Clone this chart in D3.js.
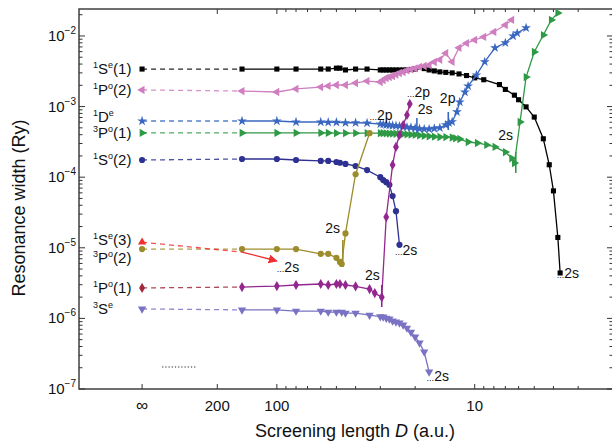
<!DOCTYPE html>
<html>
<head>
<meta charset="utf-8">
<script src="https://cdn.jsdelivr.net/npm/d3@7"></script>
<style>
  body { margin: 0; background: #fff; }
  svg { display: block; }
  text { font-family: "Liberation Sans", Arial, sans-serif; fill: #111; }
</style>
</head>
<body>
<script>
// resonance widths vs screening length
// D = Infinity is the free (unscreened) point drawn at the "∞" tick
const INF_D = 480;

const sE1 = [[Infinity,3.4e-3],[150,3.4e-3],[100,3.4e-3],[80,3.4e-3],[60,3.4e-3],[55,3.4e-3],[50,3.5e-3],[48,3.5e-3],[45,3.3e-3],[40,3.4e-3],[35,3.4e-3],[30,3.3e-3],[29,3.3e-3],[28,3.3e-3],[27,3.3e-3],[26,3.3e-3],[25,3.3e-3],[24,3.3e-3],[23,3.3e-3],[22,3.3e-3],[21,3.35e-3],[20,3.4e-3],[18,3.45e-3],[17,3.3e-3],[16,3.2e-3],[15,3.1e-3],[14,3.05e-3],[13,3.0e-3],[12,2.9e-3],[11,2.75e-3],[10,2.55e-3],[9,2.4e-3],[7.5,2.05e-3],[7,1.75e-3],[6.3,1.45e-3],[6,1.25e-3],[5.5,9.9e-4],[5,7.1e-4],[4.5,3.5e-4],[4.2,1.5e-4],[4,6.4e-5],[3.8,1.4e-5],[3.7,4.4e-6]];
const pO2 = [[Infinity,1.72e-3],[150,1.66e-3],[100,1.61e-3],[80,1.78e-3],[60,1.89e-3],[55,1.96e-3],[50,2.02e-3],[45,2.02e-3],[40,2.16e-3],[35,2.3e-3],[30,2.23e-3],[29,2.38e-3],[28,2.54e-3],[27,2.62e-3],[26,2.71e-3],[25,2.85e-3],[24,2.99e-3],[23,3.09e-3],[22,3.25e-3],[21,3.36e-3],[20,3.47e-3],[19,3.64e-3],[18,3.76e-3],[17,3.88e-3],[16,4.28e-3],[15,4.6e-3],[14,5.7e-3],[13,4.3e-3],[12,6.8e-3],[11,7.9e-3],[10,8.8e-3],[9,9.7e-3],[8,1.14e-2],[7,1.43e-2],[6.5,1.69e-2]];
const dE = [[Infinity,6.25e-4],[150,6.25e-4],[100,6.25e-4],[80,6.05e-4],[60,6.05e-4],[55,6.0e-4],[50,6.0e-4],[45,5.9e-4],[40,5.9e-4],[35,5.85e-4],[30,5.66e-4],[29,5.6e-4],[28,5.5e-4],[27,5.45e-4],[26,5.4e-4],[25,5.35e-4],[24,5.3e-4],[23,5.2e-4],[22,5.13e-4],[21,5.05e-4],[20,4.95e-4],[19,4.85e-4],[18,4.8e-4],[17,4.8e-4],[16,4.9e-4],[15,5.0e-4],[14,5.5e-4],[13.5,5.9e-4],[13,6.1e-4],[12.3,8.4e-4],[11.9,1.16e-3],[11.2,1.6e-3],[10.8,1.95e-3],[9.8,2.8e-3],[8.9,4.3e-3],[7.9,6.8e-3],[7,8e-3],[6.4,1.0e-2],[6.1,1.1e-2],[5.5,1.3e-2]];
const tPO1 = [[Infinity,4.23e-4],[150,4.23e-4],[100,4.23e-4],[80,4.23e-4],[60,4.23e-4],[55,4.23e-4],[50,4.2e-4],[45,4.2e-4],[40,4.2e-4],[35,4.2e-4],[30,4.2e-4],[29,4.2e-4],[28,4.18e-4],[27,4.15e-4],[26,4.15e-4],[25,4.12e-4],[24,4.1e-4],[23,4.08e-4],[22,4.05e-4],[21,4.0e-4],[20,3.98e-4],[19,3.9e-4],[18,3.85e-4],[17,3.8e-4],[16,3.75e-4],[15,3.71e-4],[14,3.7e-4],[13,3.65e-4],[12.5,3.55e-4],[11.9,3.47e-4],[10.8,3.15e-4],[9.7,3.05e-4],[8.7,2.86e-4],[7.9,2.68e-4],[7,2.27e-4],[6.5,1.85e-4],[6.3,1.59e-4],[5.9,6.05e-4],[5.5,2.62e-3],[5,5.93e-3],[4.5,1.03e-2],[4.1,1.69e-2],[3.8,2.12e-2]];
const sO2 = [[Infinity,1.75e-4],[150,1.81e-4],[100,1.81e-4],[80,1.75e-4],[60,1.7e-4],[55,1.7e-4],[50,1.64e-4],[48,1.6e-4],[45,1.54e-4],[40,1.44e-4],[35,1.26e-4],[30,1.0e-4],[29,9.1e-5],[28,8.5e-5],[27,7.8e-5],[26,5.4e-5],[25,3.3e-5],[24,1.1e-5]];
const sE3 = [[Infinity,1.2e-5],[150,8.7e-6],[100,6.5e-6]];
const tPO2 = [[Infinity,9.6e-6],[150,9.6e-6],[100,9.6e-6],[80,9.6e-6],[60,8.2e-6],[55,8.2e-6],[50,7.2e-6],[48,6.3e-6],[47,5.9e-6],[45,1.6e-5],[40,1.1e-4],[34,4.2e-4]];
const pO1 = [[Infinity,2.7e-6],[150,2.78e-6],[100,2.87e-6],[80,2.97e-6],[60,3.07e-6],[55,2.97e-6],[50,3.07e-6],[48,3.07e-6],[45,2.97e-6],[40,2.85e-6],[34,2.6e-6],[32,2.28e-6],[29.5,2.0e-6],[28,2.72e-5],[26,1.49e-4],[25,2.68e-4],[24,3.96e-4],[23,5.48e-4],[22,7.6e-4],[21.3,1.09e-3]];
const tSE = [[Infinity,1.36e-6],[150,1.32e-6],[100,1.32e-6],[80,1.27e-6],[60,1.27e-6],[55,1.23e-6],[50,1.23e-6],[47,1.23e-6],[45,1.19e-6],[40,1.19e-6],[34,1.11e-6],[30,1.06e-6],[29,1.05e-6],[28,1.01e-6],[27,9.8e-7],[26,9.2e-7],[25,8.9e-7],[24,8.6e-7],[23,8.1e-7],[22,7.3e-7],[21,6.4e-7],[20,5.45e-7],[19,4.5e-7],[18,3.35e-7],[17,1.74e-7]];

// threshold bars [D, from, to, colour]
const thresholds = [
  [19.6, 4.23e-4, 6.9e-4, '#3a68c0'],
  [13.6, 4.65e-4, 8.4e-4, '#3a68c0'],
  [6.2, 1.15e-4, 2.27e-4, '#2f9a45'],
  [46.4, 5.35e-6, 1.29e-5, '#9c8c2c'],
  [29.5, 1.45e-6, 2.97e-6, '#93278f']
];

// threshold notes [D, width at baseline, dots?, text]
const notes = [
  [34, 6.5e-4, true, '2p'],
  [22, 1.36e-3, true, '2p'],
  [19.4, 7.8e-4, false, '2s'],
  [15, 1.12e-3, false, '2p'],
  [7.6, 3.37e-4, false, '2s'],
  [57, 1.62e-5, false, '2s'],
  [100, 4.55e-6, true, '2s'],
  [35.9, 3.5e-6, false, '2s'],
  [25.3, 7.9e-6, true, '2s'],
  [3.85, 3.75e-6, true, '2s'],
  [17.5, 1.3e-7, true, '2s']
];

const xTickMajor = [200, 100, 10];
const xTickMinor = [90, 80, 70, 60, 50, 40, 30, 20, 9, 8, 7, 6, 5, 4, 3];
const yTickMajor = [1e-7, 1e-6, 1e-5, 1e-4, 1e-3, 1e-2];

const series = [
  { data: sE1, color: '#000000', sym: d3.symbolSquare, size: 26, rot: 0, lab: ['1','S','e','(1)'], ldy: 0 },
  { data: pO2, color: '#cf7ec0', sym: d3.symbolTriangle, size: 30, rot: -90, lab: ['1','P','o','(2)'], ldy: 0 },
  { data: dE, color: '#3a68c0', sym: d3.symbolStar, size: 30, rot: 0, lab: ['1','D','e',''], ldy: -4 },
  { data: tPO1, color: '#2f9a45', sym: d3.symbolTriangle, size: 30, rot: 90, lab: ['3','P','o','(1)'], ldy: 0 },
  { data: sO2, color: '#2e3192', sym: d3.symbolCircle, size: 30, rot: 0, lab: ['1','S','o','(2)'], ldy: 0 },
  { data: tPO2, color: '#9c8c2c', sym: d3.symbolCircle, size: 30, rot: 0, lab: ['3','P','o','(2)'], ldy: 9 },
  { data: sE3, color: '#ee3030', sym: d3.symbolTriangle, size: 30, rot: 0, lab: ['1','S','e','(3)'], ldy: -2, arrow: true },
  { data: pO1, color: '#93278f', head: '#a0283a', sym: d3.symbolDiamond, size: 30, rot: 0, lab: ['1','P','o','(1)'], ldy: 0 },
  { data: tSE, color: '#7a72c2', sym: d3.symbolTriangle, size: 30, rot: 180, lab: ['3','S','e',''], ldy: 0 }
];

const width = 612, height = 442;
const pLeft = 79, pRight = 613, pTop = 9, pBottom = 389;

const x = d3.scaleLog().domain([1000, 2]).range([pLeft, pRight]);
const y = d3.scaleLog().domain([1e-7, 0.0241]).range([pBottom, pTop]);
const xp = d => x(d === Infinity ? INF_D : d);

const svg = d3.select('body').append('svg')
  .attr('width', width).attr('height', height);

const defs = svg.append('defs');
defs.append('clipPath').attr('id', 'plot')
  .append('rect').attr('x', pLeft).attr('y', pTop)
  .attr('width', pRight - pLeft).attr('height', pBottom - pTop);

defs.append('marker')
  .attr('id', 'arrow').attr('viewBox', '0 0 10 10')
  .attr('refX', 9).attr('refY', 5)
  .attr('markerWidth', 7).attr('markerHeight', 7)
  .attr('orient', 'auto')
  .append('path').attr('d', 'M0,0L10,5L0,10z').attr('fill', '#ee3030');

// frame
const axisColor = '#333';
svg.append('rect').attr('x', pLeft).attr('y', pTop)
  .attr('width', pRight - pLeft).attr('height', pBottom - pTop)
  .attr('fill', 'none').attr('stroke', axisColor).attr('stroke-width', 1.4);

// x ticks (bottom + top, pointing inward)
const xt = svg.append('g').attr('stroke', axisColor).attr('stroke-width', 1);
xTickMajor.concat([INF_D]).forEach(d => {
  xt.append('line').attr('x1', x(d)).attr('x2', x(d)).attr('y1', pBottom).attr('y2', pBottom - 5);
  if (d !== INF_D) xt.append('line').attr('x1', x(d)).attr('x2', x(d)).attr('y1', pTop).attr('y2', pTop + 5);
});
xTickMinor.forEach(d => {
  xt.append('line').attr('x1', x(d)).attr('x2', x(d)).attr('y1', pBottom).attr('y2', pBottom - 3);
  xt.append('line').attr('x1', x(d)).attr('x2', x(d)).attr('y1', pTop).attr('y2', pTop + 3);
});
svg.append('g').selectAll('text').data(xTickMajor).join('text')
  .attr('x', d => x(d)).attr('y', 411).attr('text-anchor', 'middle')
  .attr('font-size', 15).text(d => d);
svg.append('text').attr('x', x(INF_D)).attr('y', 411).attr('text-anchor', 'middle')
  .attr('font-size', 17).text('∞');

// y ticks (left + right)
const yt = svg.append('g').attr('stroke', axisColor).attr('stroke-width', 1);
yTickMajor.forEach(v => {
  const yy = y(v);
  yt.append('line').attr('x1', pLeft).attr('x2', pLeft + 6).attr('y1', yy).attr('y2', yy);
  yt.append('line').attr('x1', pRight).attr('x2', pRight - 6).attr('y1', yy).attr('y2', yy);
  for (let k = 2; k <= 9; k++) {
    const v2 = v * k;
    if (v2 > y.domain()[1]) break;
    yt.append('line').attr('x1', pLeft).attr('x2', pLeft + 3.5).attr('y1', y(v2)).attr('y2', y(v2));
    yt.append('line').attr('x1', pRight).attr('x2', pRight - 3.5).attr('y1', y(v2)).attr('y2', y(v2));
  }
});
yTickMajor.forEach(v => {
  const t = svg.append('text').attr('x', 76).attr('y', y(v) + 5)
    .attr('text-anchor', 'end').attr('font-size', 15);
  t.append('tspan').text('10');
  t.append('tspan').attr('font-size', 10).attr('dy', -7).text('−' + Math.round(-Math.log10(v)));
});

// axis titles
const xTitle = svg.append('text').attr('x', 355).attr('y', 437)
  .attr('text-anchor', 'middle').attr('font-size', 18);
xTitle.append('tspan').text('Screening length ');
xTitle.append('tspan').attr('font-style', 'italic').text('D');
xTitle.append('tspan').text(' (a.u.)');
svg.append('text').attr('transform', 'translate(25,208) rotate(-90)')
  .attr('text-anchor', 'middle').attr('font-size', 18).text('Resonance width (Ry)');

// short dotted line near bottom left
svg.append('line').attr('x1', x(380)).attr('x2', x(255))
  .attr('y1', y(2.05e-7)).attr('y2', y(2.05e-7))
  .attr('stroke', '#222').attr('stroke-width', 1.2).attr('stroke-dasharray', '1.2,2');

const plot = svg.append('g').attr('clip-path', 'url(#plot)');
const line = d3.line().x(d => xp(d[0])).y(d => y(d[1]));

// threshold bars
thresholds.forEach(t => {
  plot.append('line').attr('x1', x(t[0])).attr('x2', x(t[0]))
    .attr('y1', y(t[1])).attr('y2', y(t[2]))
    .attr('stroke', t[3]).attr('stroke-width', 1.6);
});

series.forEach(s => {
  const head = s.head || s.color;
  // dashed link from the free-atom point
  plot.append('path').attr('d', line(s.data.slice(0, 2)))
    .attr('fill', 'none').attr('stroke', head).attr('stroke-width', 1.3)
    .attr('stroke-dasharray', '5,4').attr('opacity', 0.85);
  const rest = s.data.slice(1);
  const p = plot.append('path').attr('d', line(rest))
    .attr('fill', 'none').attr('stroke', s.color).attr('stroke-width', 1.3);
  if (s.arrow) {
    p.attr('marker-end', 'url(#arrow)');
    plot.append('path')
      .attr('d', d3.symbol().type(s.sym).size(s.size)())
      .attr('transform', `translate(${xp(Infinity)},${y(s.data[0][1])}) rotate(${s.rot})`)
      .attr('fill', s.color);
    return;
  }
  plot.selectAll(null).data(s.data).join('path')
    .attr('d', d3.symbol().type(s.sym).size(s.size))
    .attr('transform', d => `translate(${xp(d[0])},${y(d[1])}) rotate(${s.rot})`)
    .attr('fill', (d, i) => i === 0 ? head : s.color);
});

// state labels at the left
series.forEach(s => {
  const t = svg.append('text').attr('x', 93).attr('y', y(s.data[0][1]) + 5 + s.ldy)
    .attr('font-size', 15);
  t.append('tspan').attr('font-size', 9).attr('dy', -6).text(s.lab[0]);
  t.append('tspan').attr('dy', 6).text(s.lab[1]);
  t.append('tspan').attr('font-size', 9).attr('dy', -6).text(s.lab[2]);
  t.append('tspan').attr('dy', 6).text(s.lab[3]);
});

// threshold notes
notes.forEach(n => {
  const t = svg.append('text').attr('x', x(n[0])).attr('y', y(n[1])).attr('font-size', 14);
  if (n[2]) t.append('tspan').attr('font-size', 9).text('...');
  t.append('tspan').text(n[3]);
});
</script>
</body>
</html>
